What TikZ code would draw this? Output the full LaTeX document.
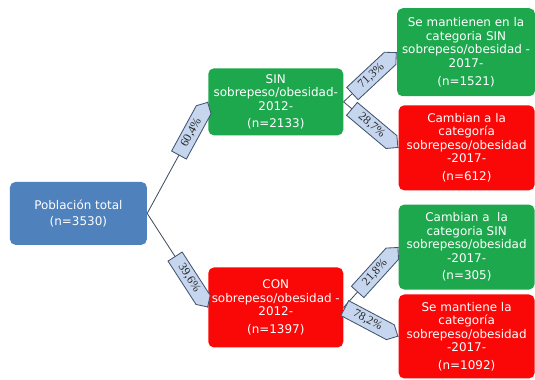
\documentclass[tikz,border=0pt]{standalone}
\usepackage{fontspec}
\setsansfont{DejaVu Sans}
\newfontfamily\pctfont{Liberation Serif}
\usepackage{xcolor}
\usepackage{tikz}
\usetikzlibrary{shapes.symbols, positioning}

\definecolor{boxblue}{RGB}{79,129,189}
\definecolor{boxgreen}{RGB}{30,168,78}
\definecolor{boxred}{RGB}{250,8,8}
\definecolor{tagfill}{RGB}{198,214,238}
\definecolor{tagline}{RGB}{66,84,112}
\definecolor{linkgray}{RGB}{66,80,96}

\begin{document}
\begin{tikzpicture}[node distance=1.5cm, >=latex]
    % Styles
    \tikzstyle{catbox} = [rectangle, rounded corners=4pt, text=white, align=center, font=\sffamily\fontsize{8.5}{9.6}\selectfont, minimum width=3.4cm, inner sep=2pt]
    \tikzstyle{totalbox} = [catbox, fill=boxblue, minimum width=3.425cm, minimum height=1.575cm]
    \tikzstyle{sinbox} = [catbox, fill=boxgreen]
    \tikzstyle{conbox} = [catbox, fill=boxred]
    \tikzstyle{pct} = [signal, signal to=east, draw=tagline, line width=0.6pt, fill=tagfill, text=black!85, font=\pctfont\fontsize{8.5}{9}\selectfont, minimum width=1.5cm, minimum height=0.42cm, inner sep=1pt]
    \tikzstyle{line} = [draw=linkgray, line width=0.6pt]

    \useasboundingbox (0,0) rectangle (13.375,9.475);

    % Nodes
    \node [totalbox] (total) at (1.96,4.14) {Población total\\[2pt](n=3530)};
    \node [sinbox, minimum width=3.375cm, minimum height=1.675cm, above right=1.15cm and 1.52cm of total] (sin12) {SIN\\sobrepeso/obesidad-\\2012-\\[3pt](n=2133)};
    \node [conbox, minimum width=3.375cm, minimum height=2cm, below right=0.55cm and 1.52cm of total] (con12) {CON\\sobrepeso/obesidad -\\2012-\\[3pt](n=1397)};
    \node [sinbox, minimum width=3.45cm, minimum height=2.2cm, right=1.33cm of sin12, yshift=1.24cm] (sinsin) {Se mantienen en la\\categoria SIN\\sobrepeso/obesidad -\\2017-\\[3pt](n=1521)};
    \node [conbox, minimum height=2.125cm, right=1.37cm of sin12, yshift=-1.15cm] (sincon) {Cambian a la\\categoría\\sobrepeso/obesidad\\-2017-\\[3pt](n=612)};
    \node [sinbox, minimum height=2.125cm, right=1.37cm of con12, yshift=1.51cm] (consin) {Cambian a \ la\\categoria SIN\\sobrepeso/obesidad\\-2017-\\[3pt](n=305)};
    \node [conbox, minimum height=2.1cm, right=1.37cm of con12, yshift=-0.725cm] (concon) {Se mantiene la\\categoría\\sobrepeso/obesidad\\-2017-\\[3pt](n=1092)};

    % Edges
    \draw [line] (total.east) -- node [pct, pos=1, anchor=east, sloped] {60,4\%} (sin12.west);
    \draw [line] (total.east) -- node [pct, pos=1, anchor=east, sloped] {39,6\%} (con12.west);
    \draw [line] (sin12.east) -- node [pct, pos=1, anchor=east, sloped] {71,3\%} (sinsin.west);
    \draw [line] (sin12.east) -- node [pct, pos=1, anchor=east, sloped] {28,7\%} (sincon.west);
    \draw [line] (con12.east) -- node [pct, pos=1, anchor=east, sloped] {21,8\%} (consin.west);
    \draw [line] (con12.east) -- node [pct, pos=1, anchor=east, sloped] {78,2\%} (concon.west);
\end{tikzpicture}
\end{document}
